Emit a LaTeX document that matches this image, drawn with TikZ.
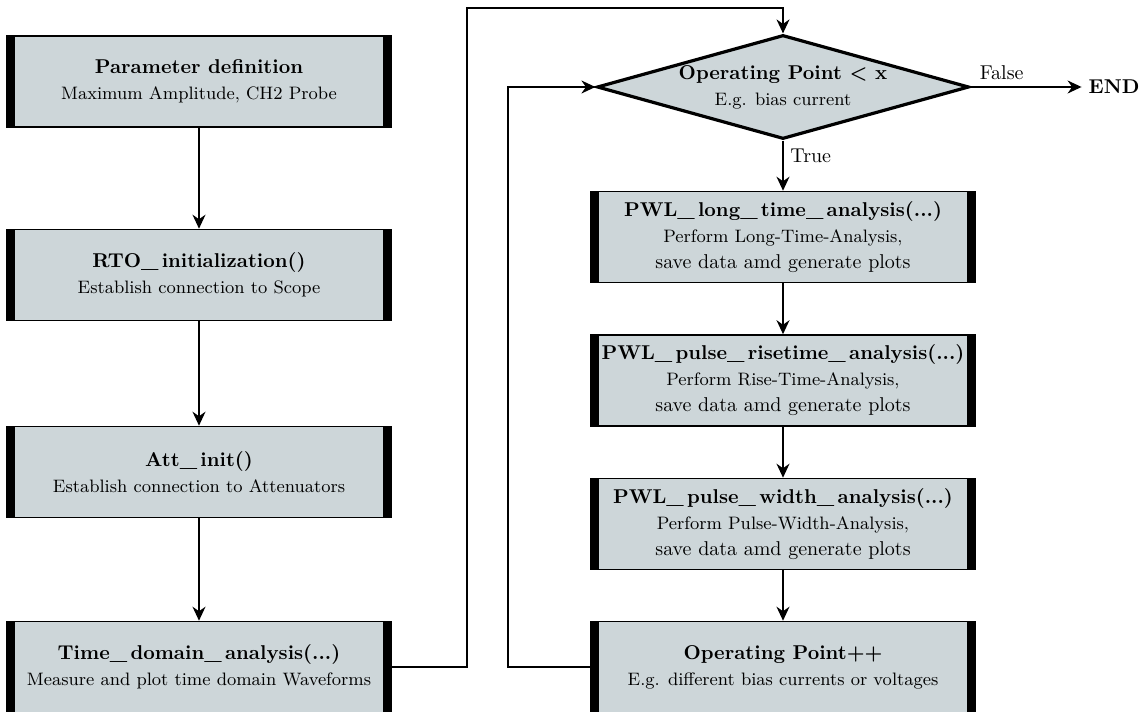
\documentclass[tikz,border=0pt]{standalone}
\usetikzlibrary{arrows.meta,shapes.geometric}

\definecolor{boxgray}{HTML}{CDD6D9}

\tikzset{
	procbox/.style={draw, thick, fill=boxgray, minimum width=192pt, minimum height=45.5pt, inner sep=0pt, align=center},
	decbox/.style={draw, line width=1.6pt, fill=boxgray, diamond, aspect=3.58, minimum width=186pt, minimum height=52pt, inner sep=0pt, align=center},
	arr/.style={-{Stealth[length=7pt,width=6.5pt]}, thick}
}

\newcommand{\boxtext}[2]{\textbf{#1}\\[1pt]\small #2}

\begin{document}
\begin{tikzpicture}[x=0.5pt,y=-0.5pt]
  			\useasboundingbox (0,0) rectangle (1144,711);
  			% left column
  			\node[procbox] (par) at (199,81.5) {\boxtext{Parameter definition}{Maximum Amplitude, CH2 Probe}};
  			\node[procbox] (rto) at (199,275) {\boxtext{RTO\_\,initialization()}{Establish connection to Scope}};
  			\node[procbox] (att) at (199,472) {\boxtext{Att\_\,init()}{Establish connection to Attenuators}};
  			\node[procbox] (tda) at (199,667) {\boxtext{Time\_\,domain\_\,analysis(...)}{Measure and plot time domain Waveforms}};
  			% right column
  			\node[decbox] (dec) at (783,87) {\textbf{Operating Point {\boldmath$<$} x}\\[1pt]\small E.g. bias current};
  			\node[procbox] (lta) at (783,237) {\boxtext{PWL\_\,long\_\,time\_\,analysis(...)}{Perform Long-Time-Analysis,\\[1pt]save data amd generate plots}};
  			\node[procbox] (pra) at (783,380.5) {\boxtext{PWL\_\,pulse\_\,risetime\_\,analysis(...)}{Perform Rise-Time-Analysis,\\[1pt]save data amd generate plots}};
  			\node[procbox] (pwa) at (783,524) {\boxtext{PWL\_\,pulse\_\,width\_\,analysis(...)}{Perform Pulse-Width-Analysis,\\[1pt]save data amd generate plots}};
  			\node[procbox] (opp) at (783,667) {\boxtext{Operating Point++}{E.g. different bias currents or voltages}};
  			\node[font=\bfseries] (fin) at (1114,87) {END};
  			% thick side bars
  			\foreach \n in {par,rto,att,tda,lta,pra,pwa,opp}{
    			\fill (\n.north west) rectangle ([xshift=4.5pt]\n.south west);
    			\fill (\n.north east) rectangle ([xshift=-4.5pt]\n.south east);
  			}
  			% bends
  			\coordinate (up) at (467,8);
  			\coordinate (back) at (508,87);
  			% connectors
  			\draw[arr] (par) -- (rto);
  			\draw[arr] (rto) -- (att);
  			\draw[arr] (att) -- (tda);
  			\draw[arr] (tda.east) -| (up) -| (dec.north);
  			\draw[arr] (dec.south) -- node[right, pos=0.3] {True} (lta.north);
  			\draw[arr] (lta) -- (pra);
  			\draw[arr] (pra) -- (pwa);
  			\draw[arr] (pwa) -- (opp);
  			\draw[arr] (opp.west) -| (back) -- (dec.west);
  			\draw[arr] (dec.east) -- node[above, pos=0.28] {False} (fin.west);
			\end{tikzpicture}
\end{document}
